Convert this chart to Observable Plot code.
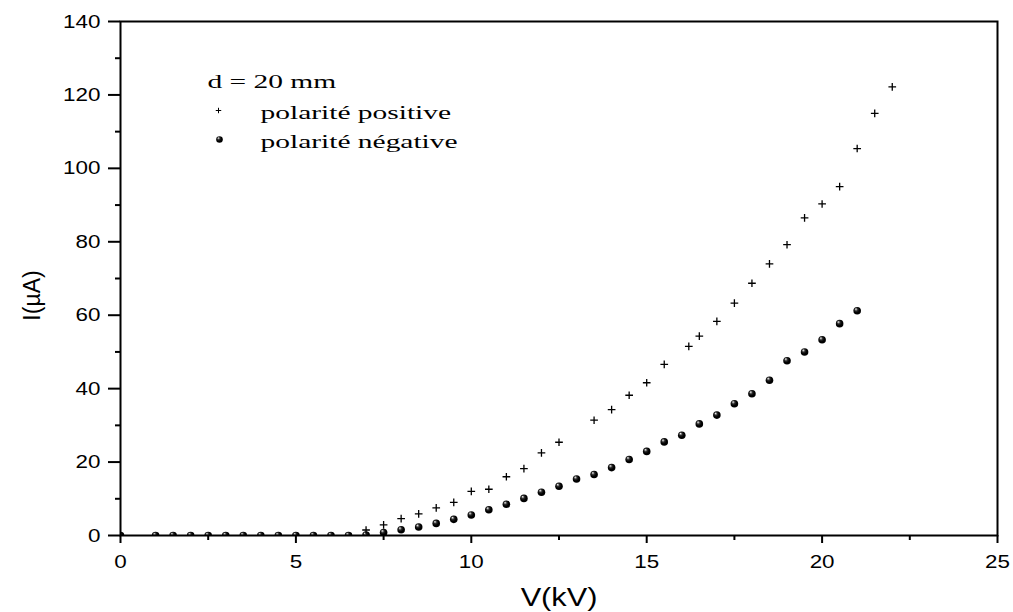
<!DOCTYPE html>
<html><head><meta charset="utf-8">
<script src="https://cdn.jsdelivr.net/npm/d3@7"></script>
<script src="https://cdn.jsdelivr.net/npm/@observablehq/plot@0.6"></script>
<style>body{margin:0;background:#fff}</style>
</head><body><div id="chart"></div>
<script>
// Positive polarity (+)
const posV = [7,7.5,8,8.5,9,9.5,10,10.5,11,11.5,12,12.5,13.5,14,14.5,15,15.5,16.2,16.5,17,17.5,18,18.5,19,19.5,20,20.5,21,21.5,22];
const posI = [1.5,2.9,4.6,5.9,7.5,9.0,12.0,12.6,16.0,18.2,22.5,25.4,31.4,34.3,38.2,41.6,46.6,51.5,54.3,58.3,63.3,68.7,74.0,79.2,86.5,90.3,95.0,105.4,115.0,122.2];
// Negative polarity (●)
const negV = [0,1,1.5,2,2.5,3,3.5,4,4.5,5,5.5,6,6.5,7,7.5,8,8.5,9,9.5,10,10.5,11,11.5,12,12.5,13,13.5,14,14.5,15,15.5,16,16.5,17,17.5,18,18.5,19,19.5,20,20.5,21];
const negI = [0,0,0,0,0,0,0,0,0,0,0,0,0,0.1,0.8,1.55,2.3,3.3,4.4,5.6,7.0,8.5,10.1,11.8,13.4,15.4,16.6,18.5,20.7,22.9,25.5,27.3,30.4,32.8,35.9,38.6,42.3,47.6,50.0,53.3,57.7,61.2];

const xTicks = [0,5,10,15,20,25];
const xMinor = [2.5,7.5,12.5,17.5,22.5];
const yTicks = [0,20,40,60,80,100,120,140];
const yMinor = [10,30,50,70,90,110,130];

const legendTitle = "d = 20 mm";
const legendLabels = ["polarité positive", "polarité négative"];
const xLabel = "V(kV)";
const yLabel = "I(µA)";

const pos = posV.map((v, k) => ({v, i: posI[k]}));
const neg = negV.map((v, k) => ({v, i: negI[k]}));

const svg = Plot.plot({
  width: 1013, height: 612,
  marginLeft: 120, marginRight: 16, marginTop: 21, marginBottom: 77,
  style: {fontFamily: "Liberation Sans, Arial, sans-serif", fontSize: "19px", color: "black", background: "white"},
  x: {domain: [0, 25]},
  y: {domain: [0, 140]},
  marks: [
    Plot.dot(neg, {x: "v", y: "i", r: 3.8, fill: "black", clip: true}),
    Plot.dot(pos, {x: "v", y: "i", r: 2.6, symbol: "plus", stroke: "black", strokeWidth: 1.3, clip: true}),
    Plot.axisX({ticks: xTicks, tickSize: 8, tickPadding: 11, strokeWidth: 2, label: null, tickFormat: d => String(d)}),
    Plot.axisX({ticks: xMinor, tickSize: 5, strokeWidth: 2, label: null, tickFormat: () => ""}),
    Plot.axisY({ticks: yTicks, tickSize: 12, tickPadding: 8, strokeWidth: 2, label: null, tickFormat: d => String(d)}),
    Plot.axisY({ticks: yMinor, tickSize: 5, strokeWidth: 2, label: null, tickFormat: () => ""}),
    Plot.frame({stroke: "black", strokeWidth: 2}),
    Plot.text([xLabel], {text: d => d, frameAnchor: "bottom", lineAnchor: "middle", textAnchor: "middle", dy: 62, fontSize: 26}),
    Plot.text([yLabel], {text: d => d, frameAnchor: "left", lineAnchor: "middle", textAnchor: "middle", dx: -88, dy: 17, rotate: -90, fontSize: 23}),
    // legend
    Plot.text([legendTitle], {text: d => d, frameAnchor: "top-left", lineAnchor: "middle", dx: 87, dy: 60, textAnchor: "start", fontFamily: "Liberation Serif", fontSize: 19}),
    Plot.text([legendLabels[0]], {text: d => d, frameAnchor: "top-left", lineAnchor: "middle", dx: 140, dy: 91, textAnchor: "start", fontFamily: "Liberation Serif", fontSize: 19}),
    Plot.text([legendLabels[1]], {text: d => d, frameAnchor: "top-left", lineAnchor: "middle", dx: 140, dy: 120, textAnchor: "start", fontFamily: "Liberation Serif", fontSize: 19}),
    Plot.dot([legendLabels[0]], {frameAnchor: "top-left", dx: 98, dy: 89, r: 1.9, symbol: "plus", stroke: "black", strokeWidth: 1}),
    Plot.dot([legendLabels[1]], {frameAnchor: "top-left", dx: 99, dy: 118, r: 3.3, fill: "black"})
  ]
});

document.getElementById("chart").appendChild(svg);

// shaded ball gradient
const sel = d3.select(svg);
const defs = sel.insert("defs", ":first-child");
const grad = defs.append("radialGradient").attr("id", "ball")
  .attr("cx", "0.45").attr("cy", "0.42").attr("r", "0.6").attr("fx", "0.32").attr("fy", "0.27");
grad.append("stop").attr("offset", "0").attr("stop-color", "#ffffff");
grad.append("stop").attr("offset", "0.12").attr("stop-color", "#b0b0b0");
grad.append("stop").attr("offset", "0.35").attr("stop-color", "#2a2a2a");
grad.append("stop").attr("offset", "0.65").attr("stop-color", "#000");
grad.append("stop").attr("offset", "1").attr("stop-color", "#000");
sel.selectAll("circle").attr("fill", "url(#ball)");

// widen horizontal text to match the reference's wide glyphs
function hasRotate(el) {
  for (let e = el; e && e !== svg; e = e.parentNode) {
    const t = e.getAttribute && e.getAttribute("transform");
    if (t && t.includes("rotate")) return true;
  }
  return false;
}
svg.querySelectorAll("text").forEach(t => {
  if (hasRotate(t)) return;
  const famEl = t.closest("[font-family]");
  const fam = famEl ? famEl.getAttribute("font-family") : "";
  const f = fam.includes("Serif") ? 1.55 : 1.18;
  const L = t.getComputedTextLength();
  if (L > 0) {
    t.setAttribute("textLength", (L * f).toFixed(1));
    t.setAttribute("lengthAdjust", "spacingAndGlyphs");
  }
});
</script>
</body></html>
